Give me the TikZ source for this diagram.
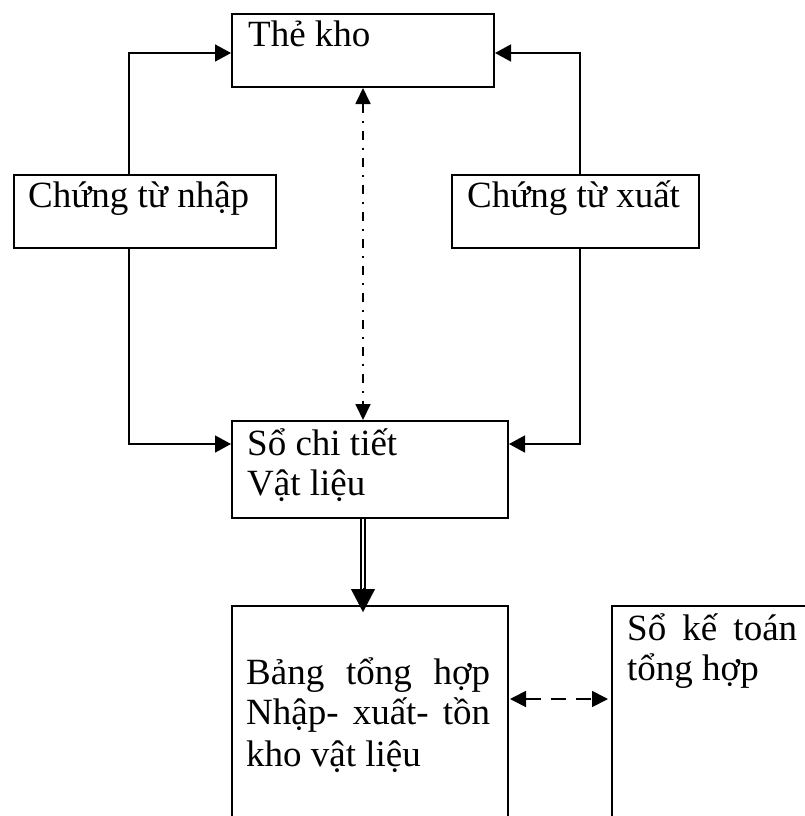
\documentclass[tikz,border=0pt]{standalone}
\usepackage{fontspec}
\setmainfont{Liberation Serif}
\usetikzlibrary{arrows.meta}
\tikzset{
  box/.style={draw, line width=2pt, inner sep=0pt, anchor=north west},
  txt/.style={inner sep=0pt, anchor=base west, font=\fontsize{37}{41}\selectfont},
  conn/.style={line width=1.6pt, -{Triangle[length=16pt,width=17pt]}},
  dashdot/.style={line width=1.8pt, dash pattern=on 9pt off 8pt on 2pt off 8pt,
    {Triangle[length=16pt,width=15pt]}-{Triangle[length=16pt,width=15pt]}},
  dbl/.style={double, double distance=2.5pt, line width=1.5pt},
  dsh/.style={line width=1.8pt, dash pattern=on 15pt off 10pt,
    {Triangle[length=16pt,width=16pt]}-{Triangle[length=16pt,width=16pt]}}
}
\begin{document}
\begin{tikzpicture}[x=1pt,y=-1pt]
\useasboundingbox (0,0) rectangle (805,816);
% boxes
\node[box, minimum width=262pt, minimum height=73pt] (the) at (231,13) {};
\node[box, minimum width=262pt, minimum height=73pt] (ctn) at (13,174) {};
\node[box, minimum width=247pt, minimum height=73pt] (ctx) at (451,174) {};
\node[box, minimum width=276pt, minimum height=97pt] (scl) at (231,420) {};
\node[box, minimum width=276pt, minimum height=300pt] (bth) at (231,605) {};
\node[box, minimum width=300pt, minimum height=300pt] (skt) at (611,605) {};
% texts
\node[txt] (theT) at (248,47) {Thẻ kho};
\node[txt] (ctnT) at (28,207) {Chứng từ nhập};
\node[txt] (ctxT) at (467,207) {Chứng từ xuất};
\node[txt] (sclT1) at (247,455) {Sổ chi tiết};
\node[txt] (sclT2) at (247,495) {Vật liệu};
\node[txt] (bthT1) at (246,684) {\makebox[244pt][s]{Bảng tổng hợp}};
\node[txt] (bthT2) at (246,724) {\makebox[244pt][s]{Nhập- xuất- tồn}};
\node[txt] (bthT3) at (246,766) {kho vật liệu};
\node[txt] (sktT1) at (627,640) {\makebox[170pt][s]{Sổ kế toán}};
\node[txt] (sktT2) at (627,680) {tổng hợp};
% connectors
\coordinate (cl) at ([xshift=116pt]ctn.north west);
\coordinate (clb) at ([xshift=116pt]ctn.south west);
\coordinate (cr) at ([xshift=129pt]ctx.north west);
\coordinate (crb) at ([xshift=129pt]ctx.south west);
\coordinate (theIn) at ([yshift=-40pt]the.north west);
\coordinate (theInR) at ([yshift=-40pt]the.north east);
\coordinate (sclIn) at ([yshift=-24pt]scl.north west);
\coordinate (sclInR) at ([yshift=-24pt]scl.north east);
\draw[conn] (cl) |- (theIn);
\draw[conn] (cr) |- (theInR);
\draw[conn] (clb) |- (sclIn);
\draw[conn] (crb) |- (sclInR);
\draw[dashdot] (the.south) -- (the.south |- scl.north);
\coordinate (dblA) at (the.south |- scl.south);
\coordinate (dblB) at ([yshift=-7pt]the.south |- bth.north);
\draw[dbl, shorten >=20pt] (dblA) -- (dblB);
\draw[line width=0.1pt, -{Triangle[length=23pt,width=24pt]}] ([yshift=24pt]dblB) -- (dblB);
\coordinate (dA) at ([yshift=-94pt]bth.north east);
\coordinate (dB) at ([yshift=-94pt]skt.north west);
\draw[dsh] ([xshift=1pt]dA) -- ([xshift=-3pt]dB);
\end{tikzpicture}
\end{document}
